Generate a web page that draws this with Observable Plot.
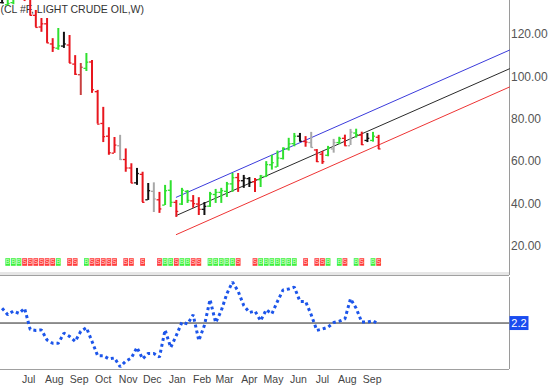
<!DOCTYPE html>
<html><head><meta charset="utf-8">
<script src="https://cdn.jsdelivr.net/npm/d3@7"></script>
<script src="https://cdn.jsdelivr.net/npm/@observablehq/plot@0.6"></script>
<style>body{margin:0;background:#fff;} #chart{width:550px;height:392px;overflow:hidden;background:#fff} #chart svg{display:block}</style>
</head><body><div id="chart"></div>
<script>
const title = "(CL #F, LIGHT CRUDE OIL,W)";
const weeks = ["2008-06-13","2008-06-20","2008-06-27","2008-07-04","2008-07-11","2008-07-18","2008-07-25","2008-08-01","2008-08-08","2008-08-15","2008-08-22","2008-08-29","2008-09-05","2008-09-12","2008-09-19","2008-09-26","2008-10-03","2008-10-10","2008-10-17","2008-10-24","2008-10-31","2008-11-07","2008-11-14","2008-11-21","2008-11-28","2008-12-05","2008-12-12","2008-12-19","2008-12-26","2009-01-02","2009-01-09","2009-01-16","2009-01-23","2009-01-30","2009-02-06","2009-02-13","2009-02-20","2009-02-27","2009-03-06","2009-03-13","2009-03-20","2009-03-27","2009-04-03","2009-04-10","2009-04-17","2009-04-24","2009-05-01","2009-05-08","2009-05-15","2009-05-22","2009-05-29","2009-06-05","2009-06-12","2009-06-19","2009-06-26","2009-07-03","2009-07-10","2009-07-17","2009-07-24","2009-07-31","2009-08-07","2009-08-14","2009-08-21","2009-08-28","2009-09-04","2009-09-11","2009-09-18","2009-09-25"];
const open  = [135,134,135,140,144,145,129,123.5,125,115.5,113.5,114.5,115,106,101,104,107,93,78,72,64,67.5,61,57,50,54,42,46,42,39.5,46.5,40.8,40,46,41.5,40,37.5,39,44.5,45.5,46,49.5,52.5,51,52,50.5,51.5,53,58.5,57.5,61.5,66,68.5,72,69.5,69,65.5,63.5,63,66,69,71,67.5,73.5,72.5,70,70,71.5];
const high  = [140,139,142,145,147.3,147,131.3,127.5,127.5,118,122.8,121,119.5,110,106.3,111,107.7,93.6,85.6,76,71.4,72.4,66,59,56.8,55,49.7,50,45.5,48.8,51,41.7,47.4,46.4,44,43,40.7,45.5,46.9,47.4,50.2,54.4,54.4,53.5,52.5,52,53.5,60,63,65,66.5,71,73.3,73.3,71.8,73.8,65.7,64.8,67.2,70.5,71.5,72.5,75.2,75.3,73.9,73.3,73.8,72.4];
const low   = [134.5,133.5,134,137,135.5,128.8,123.3,121,115.8,111.5,112.5,113.4,106.3,100.7,91.2,102.5,92.2,77.7,69,63,63.9,60.6,55,49.7,48.8,40.7,41.7,36,35.6,39.3,38.4,33.7,39.3,40.3,38,34.6,34.6,38.4,40.3,40.3,43.1,45.5,45.5,47.4,47.8,45.5,47.8,52.5,56,57.3,60.8,65,67,69.3,66.8,66.5,59.6,58.7,62.3,64,68,67.3,67.6,71.1,67.6,69,69.2,65.7];
const close = [134.9,134.6,140.2,144.3,145,129,123.3,125,116,113.8,114.6,115.5,106.5,101.2,104.5,106.9,93.9,77.7,71.8,64.2,67.8,61,57,49.9,54.4,40.8,46.3,42.4,37.7,46.3,40.8,36.5,46.5,41.7,40.2,37.5,38.9,44.8,45.5,46.3,49.5,52.4,51,52.2,50.3,51.5,53.2,58.6,59.5,61.7,66.3,68.4,72,69.6,69.2,66.7,60,60,66.5,69,70.9,67.5,73.9,72.7,68,71,72,66];
const barColor = ["black","green","green","green","red","red","red","red","red","red","green","black","red","red","darkred","green","red","red","red","red","red","gray","red","red","black","red","black","gray","red","green","green","red","green","green","red","red","black","green","green","green","green","green","red","black","black","red","green","green","green","green","green","green","green","black","red","gray","red","red","green","gray","green","red","gray","green","red","black","green","red"];
const oscillator = [5.4,4.0,4.8,4.3,5.4,0.8,0.6,0.7,-1.5,-2.2,-2.2,0.0,-0.7,-1.8,0.4,1.2,-1.8,-4.9,-4.9,-5.6,-5.4,-7.3,-6.1,-5.4,-3.1,-5.6,-4.4,-4.4,-5.2,0.7,-3.1,-0.5,2.4,2.0,4.0,-1.6,1.7,7.3,2.3,4.9,8.6,11.1,9.1,6.0,4.5,4.8,2.7,5.1,4.2,6.9,9.4,9.6,10.0,6.9,6.9,4.0,0.6,0.9,1.3,2.3,2.6,3.1,7.5,5.4,2.4,2.4,2.7,1.9];
const channelDates = ["2009-01-16","2010-03-07"];
const channelUpper = [43.2, 112.6];
const channelMid   = [34.6, 103.8];
const channelLower = [25.6, 95.2];
const priceTicks = [20,40,60,80,100,120];
const monthTicks = ["2008-07-16","2008-08-17","2008-09-17","2008-10-17","2008-11-17","2008-12-17","2009-01-17","2009-02-17","2009-03-17","2009-04-17","2009-05-17","2009-06-17","2009-07-17","2009-08-17","2009-09-17"];
const oscLevel = 2.2;

const palette = {red:"#e8161e", darkred:"#c84040", green:"#2fe02f", black:"#111111", gray:"#a8a8a8"};
const boxFill = {red:"#ff3a3a", green:"#3df03d"};
const boxText = {red:"#ffd8d8", green:"#d4ffd4"};

const xDomain = [new Date("2008-06-11"), new Date("2010-03-07")];
const yDomain = [6.3, 136];
const oscDomain = [-7.9, 12.1];

const bars = weeks.map((w,k)=>({date:new Date(w), o:open[k], h:high[k], l:low[k], c:close[k], color:barColor[k]}));
const signals = bars.filter(b => b.color==="red" || b.color==="green");
const osc = weeks.map((w,k)=>({date:new Date(w), v:oscillator[k]}));
const channel = [
  ...channelDates.map((d,k)=>({date:new Date(d), v:channelUpper[k], band:"upper"})),
  ...channelDates.map((d,k)=>({date:new Date(d), v:channelMid[k], band:"mid"})),
  ...channelDates.map((d,k)=>({date:new Date(d), v:channelLower[k], band:"lower"}))
];
const bandColor = {upper:"#3b3bdc", mid:"#2a2a2a", lower:"#ee3434"};

const boxSymbol = {draw(ctx){ ctx.rect(-2.4,-3.8,4.8,7.6); }};
const labelSymbol = {draw(ctx){ ctx.rect(-9.5,-7,19,14); }};
const font = "Liberation Sans, Arial, sans-serif";

const topPlot = Plot.plot({
  width:550, height:276, marginLeft:0, marginRight:41, marginTop:0, marginBottom:1,
  style:{fontFamily:font, fontSize:"12px", background:"#fff", overflow:"visible"},
  x:{type:"utc", domain:xDomain, axis:null},
  y:{domain:yDomain, axis:null},
  color:{type:"identity"},
  marks:[
    Plot.text([title], {frameAnchor:"top-left", lineAnchor:"middle", textAnchor:"start", dy:9, dx:0, fontSize:10.5, fill:"#333", fontFamily:font}),
    Plot.ruleY([yDomain[0]], {stroke:"#e6e6e6", strokeWidth:3, dy:-2}),
    Plot.ruleY([yDomain[0]], {stroke:"#a0a0a0"}),
    Plot.ruleX([xDomain[1]], {stroke:"#9a9a9a"}),
    Plot.axisY(priceTicks, {anchor:"right", tickSize:0, tickPadding:1.5, tickFormat:d=>d.toFixed(2), fontSize:12, fill:"#555"}),
    Plot.line(channel, {x:"date", y:"v", z:"band", stroke:d=>bandColor[d.band], strokeWidth:1}),
    Plot.ruleX(bars, {x:"date", y1:"l", y2:"h", stroke:d=>palette[d.color], strokeWidth:2, clip:true}),
    Plot.ruleY(bars, {x1:d=>d3.utcDay.offset(d.date,-3), x2:"date", y:"o", stroke:d=>palette[d.color], strokeWidth:1.3, clip:true}),
    Plot.ruleY(bars, {x1:"date", x2:d=>d3.utcDay.offset(d.date,3), y:"c", stroke:d=>palette[d.color], strokeWidth:1.3, clip:true}),
    Plot.dot(signals, {x:"date", frameAnchor:"bottom", dy:-13.5, symbol:boxSymbol, r:3, fill:d=>boxFill[d.color], stroke:"none"}),
    Plot.text(signals, {x:"date", frameAnchor:"bottom", lineAnchor:"middle", dy:-13.5, text:d=>d.color==="red"?"S":"B", fontSize:6.5, fill:d=>boxText[d.color], fontFamily:font})
  ]
});

const bottomPlot = Plot.plot({
  width:550, height:116, marginLeft:0, marginRight:41, marginTop:1, marginBottom:23,
  style:{fontFamily:font, fontSize:"10.5px", background:"#fff", overflow:"visible"},
  x:{type:"utc", domain:xDomain, axis:null},
  y:{domain:oscDomain, axis:null},
  marks:[
    Plot.ruleY([oscLevel], {stroke:"#222"}),
    Plot.line(osc, {x:"date", y:"v", stroke:"#1c55ea", strokeWidth:3, strokeDasharray:"3,3", strokeLinecap:"butt", strokeLinejoin:"miter"}),
    Plot.axisX(monthTicks.map(d=>new Date(d)), {tickSize:0, tickPadding:6, tickFormat:"%b", fontSize:10.5, fill:"#444"}),
    Plot.ruleY([oscDomain[0]], {stroke:"#a0a0a0"}),
    Plot.ruleX([xDomain[1]], {stroke:"#9a9a9a"}),
    Plot.dot([oscLevel], {y:d=>d, frameAnchor:"right", dx:9.5, symbol:labelSymbol, r:3, fill:"#1a4cf0", stroke:"none"}),
    Plot.text([oscLevel], {y:d=>d, frameAnchor:"right", textAnchor:"middle", dx:9.5, text:d=>d.toFixed(1), fill:"#fff", fontSize:11, fontFamily:font})
  ]
});

const chart = document.getElementById("chart");
chart.appendChild(topPlot);
chart.appendChild(bottomPlot);
</script>
</body></html>
